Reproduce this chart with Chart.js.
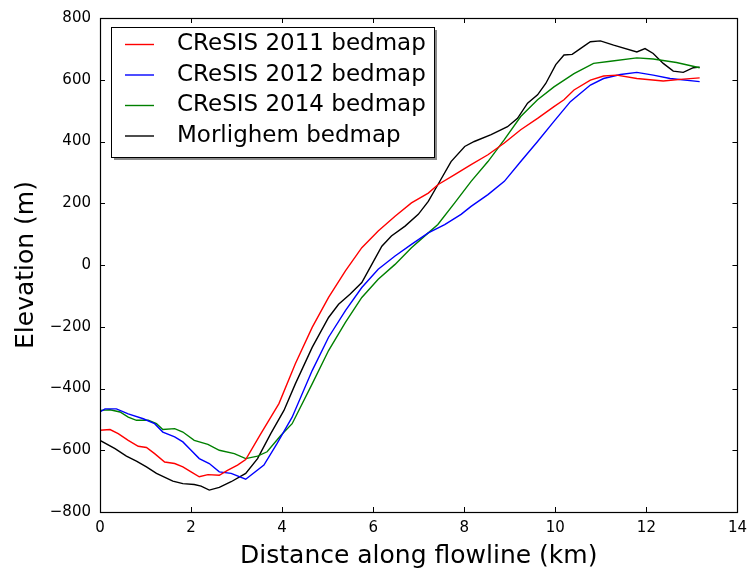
<!DOCTYPE html>
<html>
<head>
<meta charset="utf-8">
<title>Bed elevation along flowline</title>
<script src="https://cdn.jsdelivr.net/npm/chart.js@4/dist/chart.umd.min.js"></script>
<style>
    body { margin: 0; background: #fff; }
    canvas { display: block; }
</style>
</head>
<body>
<canvas id="bedChart" width="754" height="573"></canvas>
<script>
// Distance along flowline (km) and bed elevation (m) for each bedmap
const dist2011 = [0, 0.22, 0.40, 0.62, 0.84, 1.02, 1.20, 1.42, 1.64, 1.82, 2.00, 2.18, 2.37, 2.62, 2.80, 3.02, 3.20, 3.53, 3.93, 4.29, 4.66, 5.02, 5.39, 5.75, 6.11, 6.48, 6.84, 7.21, 7.42, 7.79, 8.15, 8.52, 8.88, 9.24, 9.61, 9.97, 10.19, 10.41, 10.77, 11.06, 11.35, 11.79, 12.37, 12.81, 13.17];
const elev2011 = [-535, -533, -546, -568, -587, -591, -611, -638, -643, -654, -670, -686, -679, -681, -665, -648, -630, -547, -449, -320, -202, -105, -19, 56, 110, 158, 201, 233, 260, 293, 325, 357, 395, 438, 475, 513, 535, 567, 599, 612, 615, 604, 596, 602, 606];

const dist2012 = [0, 0.11, 0.36, 0.62, 0.95, 1.20, 1.38, 1.64, 1.82, 2.00, 2.18, 2.40, 2.62, 2.88, 3.20, 3.60, 3.89, 4.22, 4.66, 5.02, 5.39, 5.75, 6.11, 6.48, 6.84, 7.21, 7.57, 7.93, 8.15, 8.52, 8.88, 9.24, 9.61, 9.97, 10.33, 10.77, 11.06, 11.43, 11.79, 12.15, 12.52, 13.17];
const elev2012 = [-476, -466, -466, -482, -498, -514, -541, -557, -573, -600, -627, -643, -670, -675, -694, -648, -578, -493, -342, -234, -148, -73, -14, 29, 67, 104, 131, 164, 190, 228, 271, 335, 400, 465, 529, 583, 604, 617, 624, 615, 604, 594];

const dist2014 = [0, 0.22, 0.44, 0.62, 0.80, 1.06, 1.24, 1.38, 1.64, 1.82, 2.07, 2.37, 2.62, 2.95, 3.20, 3.46, 3.67, 3.97, 4.22, 4.66, 5.02, 5.39, 5.75, 6.11, 6.48, 6.84, 7.21, 7.42, 7.79, 8.15, 8.52, 8.88, 9.24, 9.61, 9.97, 10.41, 10.84, 11.21, 11.79, 12.15, 12.66, 13.17];
const elev2014 = [-471, -469, -476, -493, -503, -503, -514, -533, -530, -541, -568, -581, -600, -611, -627, -619, -605, -552, -514, -385, -277, -186, -105, -46, 2, 56, 104, 131, 201, 271, 335, 406, 481, 535, 577, 620, 653, 660, 671, 667, 656, 639];

const distMorlighem = [0, 0.33, 0.58, 0.80, 1.02, 1.24, 1.60, 1.82, 2.07, 2.22, 2.40, 2.62, 2.88, 3.20, 3.46, 3.75, 4.04, 4.29, 4.66, 5.02, 5.24, 5.49, 5.75, 5.97, 6.19, 6.40, 6.70, 6.99, 7.21, 7.42, 7.71, 8.01, 8.22, 8.59, 8.95, 9.17, 9.39, 9.61, 9.79, 10.01, 10.19, 10.37, 10.55, 10.77, 10.99, 11.28, 11.79, 11.97, 12.15, 12.37, 12.59, 12.81, 13.03, 13.17];
const elevMorlighem = [-568, -595, -619, -635, -654, -675, -700, -708, -711, -716, -729, -720, -702, -675, -627, -546, -471, -385, -267, -170, -127, -95, -57, 2, 61, 94, 126, 164, 206, 260, 335, 384, 400, 422, 448, 475, 524, 551, 588, 649, 680, 682, 701, 723, 726, 712, 690, 701, 685, 653, 628, 624, 639, 641];

const seriesLabels = ['CReSIS 2011 bedmap', 'CReSIS 2012 bedmap', 'CReSIS 2014 bedmap', 'Morlighem bedmap'];
const seriesColors = ['#ff0000', '#0000ff', '#008000', '#000000'];

const xTicks = [0, 2, 4, 6, 8, 10, 12, 14];
const yTicks = [-800, -600, -400, -200, 0, 200, 400, 600, 800];

const FONT = 'DejaVu Sans';

function toPoints(xs, ys) {
    return xs.map((x, i) => ({ x: x, y: ys[i] }));
}

function minusSign(v) {
    return v < 0 ? '\u2212' + Math.abs(v) : String(v);
}

const seriesData = [
    toPoints(dist2011, elev2011),
    toPoints(dist2012, elev2012),
    toPoints(dist2014, elev2014),
    toPoints(distMorlighem, elevMorlighem),
];

// matplotlib-style frame with inward ticks on all four sides
const framePlugin = {
    id: 'frame',
    afterDatasetsDraw(chart) {
        const { ctx, chartArea: a, scales } = chart;
        const len = 5;
        ctx.save();
        ctx.strokeStyle = '#000';
        ctx.lineWidth = 1;
        ctx.beginPath();
        xTicks.forEach(v => {
            const px = Math.round(scales.x.getPixelForValue(v)) + 0.5;
            ctx.moveTo(px, a.bottom); ctx.lineTo(px, a.bottom - len);
            ctx.moveTo(px, a.top); ctx.lineTo(px, a.top + len);
        });
        yTicks.forEach(v => {
            const py = Math.round(scales.y.getPixelForValue(v)) + 0.5;
            ctx.moveTo(a.left, py); ctx.lineTo(a.left + len, py);
            ctx.moveTo(a.right, py); ctx.lineTo(a.right - len, py);
        });
        ctx.stroke();
        ctx.lineWidth = 1.2;
        ctx.strokeRect(Math.round(a.left) + 0.5, Math.round(a.top) + 0.5,
            Math.round(a.right - a.left), Math.round(a.bottom - a.top));
        ctx.restore();
    }
};

// legend box in the upper left, with a drop shadow
const legendPlugin = {
    id: 'boxLegend',
    afterDraw(chart) {
        const { ctx } = chart;
        const box = { x: 111, y: 27, w: 323, h: 130 };
        ctx.save();
        ctx.fillStyle = '#8a8a8a';
        ctx.fillRect(box.x + 3, box.y + 3, box.w, box.h);
        ctx.fillStyle = '#fff';
        ctx.fillRect(box.x, box.y, box.w, box.h);
        ctx.strokeStyle = '#000';
        ctx.lineWidth = 1;
        ctx.strokeRect(box.x + 0.5, box.y + 0.5, box.w, box.h);

        ctx.font = '23px "' + FONT + '"';
        ctx.textBaseline = 'middle';
        ctx.textAlign = 'left';
        chart.data.datasets.forEach((ds, i) => {
            const yRow = 44.5 + i * 30.5;
            ctx.strokeStyle = ds.borderColor;
            ctx.lineWidth = 1.4;
            ctx.beginPath();
            ctx.moveTo(125, yRow);
            ctx.lineTo(154, yRow);
            ctx.stroke();
            ctx.fillStyle = '#000';
            ctx.fillText(ds.label, 177, yRow);
        });
        ctx.restore();
    }
};

const ctx = document.getElementById('bedChart').getContext('2d');
const bedChart = new Chart(ctx, {
    type: 'line',
    data: {
        datasets: seriesData.map((pts, i) => ({
            label: seriesLabels[i],
            data: pts,
            borderColor: seriesColors[i],
            backgroundColor: seriesColors[i],
            borderWidth: 1.4,
            pointRadius: 0,
            tension: 0,
            fill: false,
        }))
    },
    options: {
        responsive: false,
        animation: false,
        devicePixelRatio: 1,
        layout: { padding: { left: 0, right: 13, top: 16, bottom: 0 } },
        plugins: {
            legend: { display: false },
            tooltip: { enabled: false },
        },
        scales: {
            x: {
                type: 'linear',
                min: 0,
                max: 14,
                afterBuildTicks: scale => { scale.ticks = xTicks.map(v => ({ value: v })); },
                afterFit: scale => { scale.height = 61; },
                grid: { display: false, drawTicks: false },
                border: { display: false },
                ticks: {
                    color: '#000',
                    font: { family: FONT, size: 15 },
                    padding: 7,
                    maxRotation: 0,
                    callback: v => minusSign(v),
                },
                title: {
                    display: true,
                    text: 'Distance along flowline (km)',
                    color: '#000',
                    font: { family: FONT, size: 25 },
                    padding: { top: 0, bottom: 2 },
                },
            },
            y: {
                type: 'linear',
                min: -800,
                max: 800,
                afterBuildTicks: scale => { scale.ticks = yTicks.map(v => ({ value: v })); },
                afterFit: scale => { scale.width = 100; },
                grid: { display: false, drawTicks: false },
                border: { display: false },
                ticks: {
                    color: '#000',
                    font: { family: FONT, size: 15 },
                    padding: 9,
                    callback: v => minusSign(v),
                },
                title: {
                    display: true,
                    text: 'Elevation (m)',
                    color: '#000',
                    font: { family: FONT, size: 25 },
                    padding: { top: 11, bottom: 0 },
                },
            },
        },
    },
    plugins: [framePlugin, legendPlugin],
});
</script>
</body>
</html>
